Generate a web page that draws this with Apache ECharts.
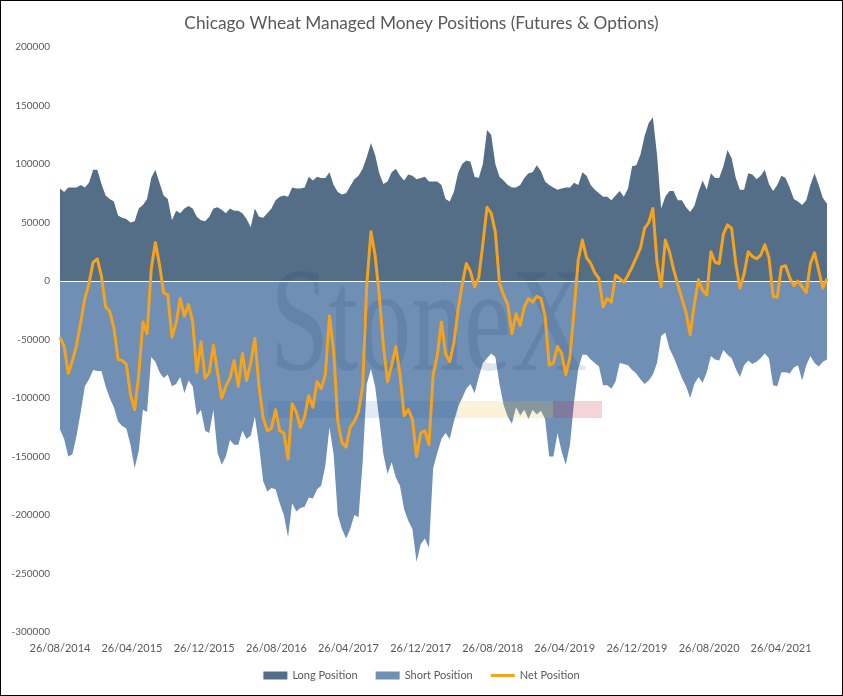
<!DOCTYPE html>
<html>
<head>
<meta charset="utf-8">
<title>Chicago Wheat Managed Money Positions</title>
<script src="https://cdn.jsdelivr.net/npm/echarts@6.0.0/dist/echarts.min.js"></script>
<style>
  html, body { margin: 0; padding: 0; background: #fff; }
  #chart { width: 843px; height: 696px; }
  #frame { position: absolute; left: 0; top: 0; width: 843px; height: 696px;
           box-sizing: border-box; border: 1px solid #000; pointer-events: none; }
</style>
</head>
<body>
<div id="chart"></div>
<div id="frame"></div>
<script>
// Weekly COT figures sampled every second Tuesday, values in thousands of contracts.
var startDate = [2014, 8, 26];   // 26/08/2014
var stepDays = 14;

var longK = [
  79, 76, 80, 80, 80, 82, 80, 84, 95, 95, 83, 73, 70, 68, 56, 54, 53, 50, 51, 62,
  65, 70, 88, 95, 84, 73, 70, 52, 60, 58, 62, 64,
  62, 55, 52, 51, 55, 62, 63, 61, 58, 62, 60, 60, 58, 53, 46, 62, 55, 54, 58, 62,
  69, 72, 73, 72, 80, 79, 79, 80, 89, 86, 89, 88,
  88, 93, 82, 76, 74, 75, 81, 87, 90, 96, 106, 118, 108, 92, 83, 85, 93, 96, 90, 86,
  91, 90, 87, 88, 89, 85, 85, 85, 82, 70, 68, 76, 92,
  100, 103, 102, 89, 88, 100, 129, 125, 100, 89, 86, 82, 80, 80, 82, 88, 92, 93, 99, 94,
  85, 82, 80, 78, 79, 80, 80, 84, 82, 93, 90, 82, 78,
  75, 72, 72, 69, 73, 77, 72, 79, 98, 99, 108, 124, 135, 140, 108, 62, 72, 77, 77, 69,
  69, 63, 59, 64, 76, 86, 78, 92, 88, 88,
  98, 112, 105, 88, 78, 78, 92, 91, 87, 90, 95, 83, 77, 82, 90, 88, 80, 70, 68, 65,
  69, 82, 92, 82, 71, 66
];

var shortK = [
  -127, -135, -150, -148, -132, -112, -90, -84, -76, -77, -77, -90, -100, -108, -120, -124, -126, -140, -160, -145,
  -110, -112, -65, -69, -78, -83, -80, -90, -88, -82, -96, -85,
  -90, -115, -110, -128, -130, -110, -147, -157, -150, -136, -140, -140, -128, -135, -132, -116, -140, -171, -180, -177,
  -178, -190, -200, -219, -190, -197, -194, -193, -185, -186, -178, -175,
  -158, -125, -148, -200, -212, -220, -212, -200, -202, -155, -88, -75, -90, -118, -148, -165, -155, -168, -175, -195,
  -205, -212, -240, -225, -220, -228, -160, -147, -135, -130, -135, -120, -108,
  -100, -92, -88, -96, -82, -70, -66, -62, -65, -88, -106, -116, -122, -108, -115, -110, -118, -110, -114, -111,
  -118, -150, -150, -130, -146, -157, -140, -103, -75, -63, -63, -67, -70,
  -73, -89, -89, -92, -86, -70, -71, -72, -76, -79, -84, -88, -85, -80, -70, -47, -44, -58, -65, -74,
  -83, -90, -100, -88, -82, -87, -78, -64, -67, -68,
  -59, -63, -66, -75, -82, -72, -68, -71, -69, -66, -62, -66, -89, -90, -78, -78, -79, -74, -72, -85,
  -72, -64, -70, -73, -69, -67
];

var netK = [
  -48, -56, -79, -68, -55, -35, -15, -2, 16, 19, 4, -22, -26, -40, -67, -68, -71, -97, -110, -80,
  -35, -45, 10, 33, 14, -10, -12, -48, -36, -15, -30, -20,
  -35, -78, -52, -83, -78, -55, -78, -100, -90, -83, -68, -90, -62, -85, -70, -49, -90, -117, -128, -126,
  -110, -128, -130, -152, -105, -112, -125, -116, -98, -108, -86, -92,
  -80, -30, -60, -120, -138, -142, -125, -120, -112, -90, -3, 42, 22, -12, -55, -86, -72, -56, -80, -115,
  -110, -118, -150, -130, -128, -140, -80, -64, -35, -62, -69, -53, -25,
  -3, 15, 8, -5, 3, 32, 63, 58, 42, -2, -12, -20, -45, -28, -38, -22, -15, -18, -13, -15,
  -30, -72, -70, -56, -62, -80, -65, -25, 18, 35, 20, 15, 7,
  2, -22, -15, -18, 5, 2, -1, 5, 12, 20, 28, 45, 50, 62, 16, -5, 35, 25, 10, -3,
  -15, -27, -46, -20, 1, -8, -12, 25, 16, 15,
  40, 48, 45, 15, -6, 6, 25, 21, 19, 22, 31, 20, -13, -14, 12, 13, 3, -4, 0, -5,
  -10, 15, 24, 9, -6, 2
];

var xTickLabels = ['26/08/2014', '26/04/2015', '26/12/2015', '26/08/2016', '26/04/2017', '26/12/2017',
                   '26/08/2018', '26/04/2019', '26/12/2019', '26/08/2020', '26/04/2021'];

var seriesNames = ['Long Position', 'Short Position', 'Net Position'];

var FONT = 'Lato, "Open Sans", sans-serif';
var TEXT = '#595959';

function dateAt(i) {
  return new Date(startDate[0], startDate[1] - 1, startDate[2] + stepDays * i).getTime();
}
function parseTick(s) {
  var p = s.split('/');
  return new Date(+p[2], +p[1] - 1, +p[0]).getTime();
}
function toPoints(arr) {
  var out = [];
  for (var i = 0; i < arr.length; i++) out.push([dateAt(i), arr[i] * 1000]);
  return out;
}

var tickValues = [];
for (var j = 0; j < xTickLabels.length; j++) tickValues.push(parseTick(xTickLabels[j]));

var chart = echarts.init(document.getElementById('chart'), null, { renderer: 'canvas' });

chart.setOption({
  animation: false,
  backgroundColor: '#fff',
  title: {
    text: 'Chicago Wheat Managed Money Positions (Futures & Options)',
    left: 'center',
    top: 10,
    textStyle: { fontFamily: FONT, fontSize: 17.3, fontWeight: 'normal', color: TEXT }
  },
  grid: { left: 60, right: 16, top: 47, bottom: 64 },
  legend: {
    data: [
      { name: seriesNames[0], icon: 'rect' },
      { name: seriesNames[1], icon: 'rect' },
      { name: seriesNames[2], icon: 'path://M0,0 L24,0 L24,3 L0,3 Z' }
    ],
    left: 'center',
    top: 665,
    itemWidth: 24,
    itemHeight: 8,
    itemGap: 18,
    textStyle: { fontFamily: FONT, fontSize: 11, color: TEXT }
  },
  // dates are kept as timestamps on a value axis so the labels can sit on the 26th of every 8th month
  xAxis: {
    type: 'value',
    min: dateAt(0),
    max: dateAt(netK.length - 1),
    axisLine: { show: false },
    axisTick: { show: false },
    splitLine: { show: false },
    axisLabel: {
      customValues: tickValues,
      showMinLabel: true,
      showMaxLabel: true,
      hideOverlap: false,
      margin: 11,
      fontFamily: FONT,
      fontSize: 11,
      color: TEXT,
      formatter: function (v) {
        var idx = tickValues.indexOf(v);
        return idx >= 0 ? xTickLabels[idx] : '';
      }
    }
  },
  yAxis: {
    type: 'value',
    min: -300000,
    max: 200000,
    interval: 50000,
    axisLine: { show: false },
    axisTick: { show: false },
    splitLine: { show: false },
    axisLabel: {
      margin: 10,
      fontFamily: FONT,
      fontSize: 10,
      color: TEXT,
      formatter: function (v) { return String(v); }
    }
  },
  graphic: [
    // faint StoneX watermark behind the net line
    { type: 'text', z: 3, x: 270, y: 331, scaleX: 0.715, silent: true,
      style: { text: 'StoneX', fill: 'rgba(25,55,95,0.13)', fontSize: 148,
               fontFamily: '"Liberation Serif", "DejaVu Serif", serif', align: 'left', verticalAlign: 'middle' } },
    { type: 'rect', z: 3, silent: true, shape: { x: 268, y: 401, width: 190, height: 17 },
      style: { fill: 'rgba(30,90,160,0.13)' } },
    { type: 'rect', z: 3, silent: true, shape: { x: 458, y: 401, width: 95, height: 17 },
      style: { fill: 'rgba(230,190,60,0.2)' } },
    { type: 'rect', z: 3, silent: true, shape: { x: 553, y: 401, width: 49, height: 17 },
      style: { fill: 'rgba(200,40,60,0.2)' } }
  ],
  series: [
    {
      name: seriesNames[0],
      type: 'line',
      z: 1,
      symbol: 'none',
      data: toPoints(longK),
      itemStyle: { color: '#546E88' },
      lineStyle: { width: 0 },
      areaStyle: { color: '#546E88', opacity: 1 }
    },
    {
      name: seriesNames[1],
      type: 'line',
      z: 2,
      symbol: 'none',
      data: toPoints(shortK),
      itemStyle: { color: '#6F8FB5' },
      lineStyle: { width: 0 },
      areaStyle: { color: '#6F8FB5', opacity: 1 },
      markLine: {
        silent: true,
        symbol: ['none', 'none'],
        label: { show: false },
        lineStyle: { color: '#ffffff', width: 1, type: 'solid' },
        data: [{ yAxis: 0 }]
      }
    },
    {
      name: seriesNames[2],
      type: 'line',
      z: 5,
      symbol: 'none',
      data: toPoints(netK),
      itemStyle: { color: '#F5A21D' },
      lineStyle: { color: '#F5A21D', width: 3, join: 'round' }
    }
  ]
});
</script>
</body>
</html>
